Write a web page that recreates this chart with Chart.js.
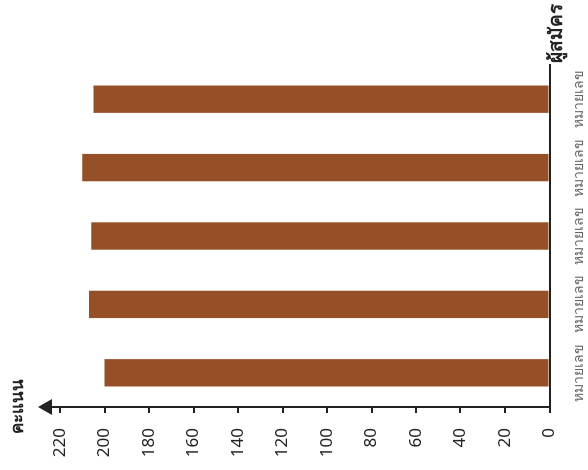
<!DOCTYPE html>
<html>
<head>
<meta charset="utf-8">
<script src="https://cdn.jsdelivr.net/npm/chart.js@4"></script>
<style>
  html, body { margin: 0; padding: 0; background: #fff; overflow: hidden; }
  body { width: 588px; height: 470px; position: relative; }
  /* chart is drawn upright, then turned a quarter to the left */
  #wrap { position: absolute; left: 0; top: 0; width: 470px; height: 588px;
          transform-origin: 0 0; transform: translate(0px, 470px) rotate(-90deg); }
</style>
</head>
<body>
<div id="wrap"><canvas id="c" width="470" height="588"></canvas></div>
<script>
// ─── DATA ─────────────────────────────────────────────────────────────────────
const CATEGORIES = ['หมายเลข', 'หมายเลข', 'หมายเลข', 'หมายเลข', 'หมายเลข'];
const SCORES = [200, 207, 206, 210, 205];
const SCORE_MIN = 0, SCORE_MAX = 220, SCORE_STEP = 20;
const VALUE_TITLE = 'คะแนน';
const CATEGORY_TITLE = 'ผู้สมัคร';

const INK = '#222';
const BAR = '#965027';

// ─── EXTRAS: axis arrow + axis titles ─────────────────────────────────────────
const axisExtras = {
  id: 'axisExtras',
  afterDraw(chart) {
    const { ctx, chartArea: a } = chart;
    ctx.save();
    ctx.strokeStyle = INK; ctx.fillStyle = INK; ctx.lineWidth = 2;
    // value axis continues up to an arrow head
    ctx.beginPath(); ctx.moveTo(a.left, a.top); ctx.lineTo(a.left, a.top - 12); ctx.stroke();
    ctx.beginPath();
    ctx.moveTo(a.left, a.top - 22);
    ctx.lineTo(a.left - 8, a.top - 8);
    ctx.lineTo(a.left + 8, a.top - 8);
    ctx.closePath(); ctx.fill();
    ctx.textBaseline = 'middle';
    ctx.font = 'bold 17px "Noto Sans", sans-serif';
    ctx.textAlign = 'center';
    ctx.fillText(VALUE_TITLE, a.left, a.top - 42);
    ctx.font = 'bold 19px "Noto Sans", sans-serif';
    ctx.textAlign = 'left';
    ctx.fillText(CATEGORY_TITLE, a.right + 2, a.bottom + 7);
    ctx.restore();
  }
};

new Chart(document.getElementById('c'), {
  type: 'bar',
  data: {
    labels: CATEGORIES,
    datasets: [{ data: SCORES, backgroundColor: BAR, borderWidth: 0, barPercentage: 0.4, categoryPercentage: 1 }]
  },
  options: {
    responsive: false, animation: false,
    layout: { padding: { left: 0, right: 65, top: 60, bottom: 0 } },
    plugins: { legend: { display: false }, tooltip: { enabled: false } },
    scales: {
      x: {
        grid: { display: false },
        border: { display: true, color: INK, width: 2 },
        ticks: { color: '#666', font: { size: 14, family: '"Noto Sans", sans-serif' }, padding: 13, maxRotation: 0, autoSkip: false },
        afterFit: s => { s.height = 38.5; }
      },
      y: {
        min: SCORE_MIN, max: SCORE_MAX,
        grid: { drawOnChartArea: false, drawTicks: true, tickLength: 6, color: INK, lineWidth: 2 },
        border: { display: true, color: INK, width: 2 },
        ticks: { stepSize: SCORE_STEP, color: INK, font: { size: 17, family: '"Noto Sans", sans-serif' }, padding: 15 },
        afterFit: s => { s.width = 63; }
      }
    }
  },
  plugins: [axisExtras]
});
</script>
</body>
</html>
